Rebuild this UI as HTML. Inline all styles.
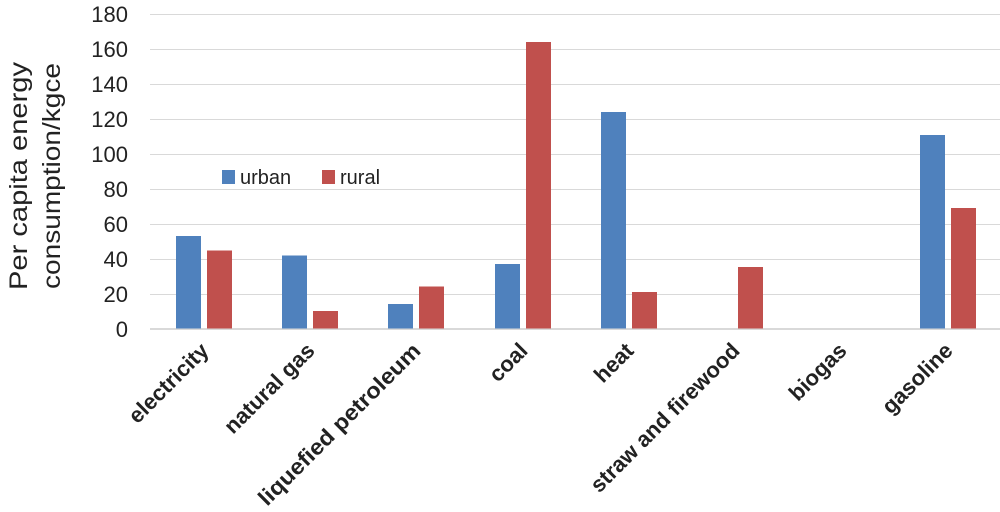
<!DOCTYPE html>
<html><head><meta charset="utf-8"><style>body{margin:0;background:#fff}</style></head><body>
<svg width="1000" height="507" xmlns="http://www.w3.org/2000/svg" font-family="Liberation Sans, sans-serif">
<g stroke="#d9d9d9" stroke-width="1">
<line x1="150" x2="1000" y1="14.5" y2="14.5"/><line x1="150" x2="1000" y1="49.5" y2="49.5"/>
<line x1="150" x2="1000" y1="84.5" y2="84.5"/><line x1="150" x2="1000" y1="119.5" y2="119.5"/>
<line x1="150" x2="1000" y1="154.5" y2="154.5"/><line x1="150" x2="1000" y1="189.5" y2="189.5"/>
<line x1="150" x2="1000" y1="224.5" y2="224.5"/><line x1="150" x2="1000" y1="259.5" y2="259.5"/>
<line x1="150" x2="1000" y1="294.5" y2="294.5"/>
</g>
<line x1="150" x2="1000" y1="329" y2="329" stroke="#d9d9d9" stroke-width="2"/>
<g font-size="22" fill="#222" text-anchor="end">
<text x="128" y="22">180</text><text x="128" y="57">160</text><text x="128" y="92">140</text>
<text x="128" y="127">120</text><text x="128" y="162">100</text><text x="128" y="197">80</text>
<text x="128" y="232">60</text><text x="128" y="267">40</text><text x="128" y="302">20</text>
<text x="128" y="337">0</text>
</g>
<g font-size="25" fill="#222" text-anchor="middle" transform="translate(0,176) rotate(-90)">
<text x="0" y="27" textLength="228" lengthAdjust="spacingAndGlyphs">Per capita energy</text>
<text x="0" y="60" textLength="226" lengthAdjust="spacingAndGlyphs">consumption/kgce</text>
</g>
<rect x="222" y="170" width="13" height="14" fill="#4f81bd"/><text x="240" y="184" font-size="20" fill="#222">urban</text>
<rect x="322" y="170" width="13" height="14" fill="#c0504d"/><text x="340" y="184" font-size="20" fill="#222">rural</text>
<g font-size="22" font-weight="bold" fill="#222" text-anchor="end">
<text transform="translate(210,352) rotate(-45)">electricity</text>
<text transform="translate(316,352) rotate(-45)">natural gas</text>
<text transform="translate(422,352) rotate(-45)" textLength="219" lengthAdjust="spacingAndGlyphs">liquefied petroleum</text>
<text transform="translate(529,352) rotate(-45)">coal</text>
<text transform="translate(635,352) rotate(-45)">heat</text>
<text transform="translate(741,352) rotate(-45)">straw and firewood</text>
<text transform="translate(848,352) rotate(-45)">biogas</text>
<text transform="translate(954,352) rotate(-45)">gasoline</text>
</g>
<g>
<rect x="176" y="236" width="25" height="92.5" fill="#4f81bd"/><rect x="207" y="250.5" width="25" height="78" fill="#c0504d"/>
<rect x="282" y="255.5" width="25" height="73" fill="#4f81bd"/><rect x="313" y="311" width="25" height="17.5" fill="#c0504d"/>
<rect x="388" y="304" width="25" height="24.5" fill="#4f81bd"/><rect x="419" y="286.5" width="25" height="42" fill="#c0504d"/>
<rect x="495" y="264" width="25" height="64.5" fill="#4f81bd"/><rect x="526" y="42" width="25" height="286.5" fill="#c0504d"/>
<rect x="601" y="112" width="25" height="216.5" fill="#4f81bd"/><rect x="632" y="292" width="25" height="36.5" fill="#c0504d"/>
<rect x="738" y="267" width="25" height="61.5" fill="#c0504d"/>
<rect x="920" y="135" width="25" height="193.5" fill="#4f81bd"/><rect x="951" y="208" width="25" height="120.5" fill="#c0504d"/>
</g>
</svg>
</body></html>
